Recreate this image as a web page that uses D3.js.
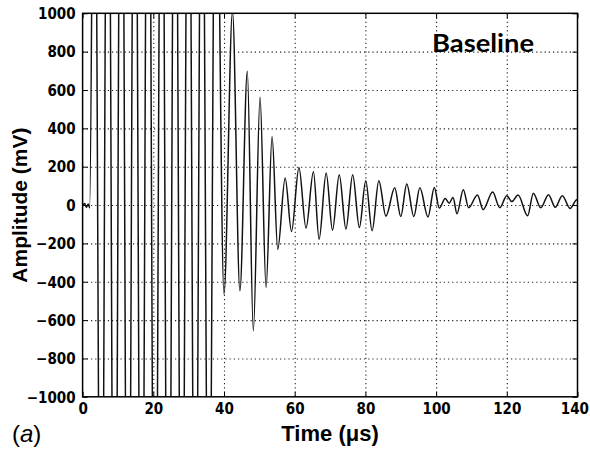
<!DOCTYPE html>
<html><head><meta charset="utf-8">
<script src="https://cdn.jsdelivr.net/npm/d3@7"></script>
<style>body{margin:0;background:#fff} svg{display:block}</style>
</head><body><svg id="c" width="590" height="450"></svg>
<script>
// Signal extrema (time in µs, amplitude in mV); values beyond ±1000 are clipped
const times = [0, 0.6, 1.1, 1.6, 2.0,
  3.3, 5.25, 7.15, 9.05, 10.95, 12.85, 14.75, 16.65, 18.55, 20.45, 22.35, 24.25, 26.15, 28.05, 29.95, 31.85, 33.75, 35.7, 37.65,
  40.0, 42.4, 44.5, 46.6, 48.3, 50.2, 51.9, 53.6, 55.2, 57.3, 59.1, 61.2, 63.2, 65.3, 66.9, 68.9, 70.7, 72.6, 74.5, 76.4, 78.3,
  80.1, 81.9, 83.8, 85.8, 88.3, 90.0, 91.7, 93.7, 95.4, 97.7, 99.5, 100.9, 102.6, 103.7, 104.8, 105.9, 107.7, 109.2, 111.7,
  113.3, 116.0, 118.0, 120.0, 121.4, 123.2, 125.9, 127.5, 129.6, 131.8, 133.7, 135.7, 137.9, 139.8, 140.0];
const amplitudes = [0, 8, -12, 6, -15,
  2600, -2800, 2900, -3000, 3000, -3000, 2900, -2900, 3000, -2900, 2800, -2900, 2800, -2700, 2700, -2600, 2500, -2400, 2300,
  -465, 1010, -447, 698, -656, 562, -430, 357, -230, 141, -138, 196, -120, 174, -178, 167, -131, 158, -125, 158, -117,
  127, -134, 127, -58, 90, -60, 110, -60, 90, -62, 92, -16, 34, 10, 40, -45, 80, -14, 53,
  -24, 68, -14, 49, 18, 52, -56, 62, -14, 54, -12, 49, -18, 27, 25];
const xTicks = [0, 20, 40, 60, 80, 100, 120, 140];
const yTicks = [-1000, -800, -600, -400, -200, 0, 200, 400, 600, 800, 1000];
const xLabel = "Time (\u03bcs)";
const yLabel = "Amplitude (mV)";
const panelTag = "Baseline";

const svg = d3.select("#c");
const L = 82.6, R = 577.5, T = 13.3, B = 396.8;
const x = d3.scaleLinear().domain([0, 140]).range([L, R]);
const y = d3.scaleLinear().domain([-1000, 1000]).range([B, T]);
const lblFont = "'Liberation Sans Narrow','DejaVu Sans Condensed',Arial,sans-serif";

svg.append("rect").attr("width", 590).attr("height", 450).attr("fill", "#fff");

// dotted grid
const gx = svg.append("g").attr("transform", `translate(0,${B})`)
  .call(d3.axisBottom(x).tickValues(xTicks.slice(1, -1)).tickSize(-(B - T)).tickFormat(""));
const gy = svg.append("g").attr("transform", `translate(${L},0)`)
  .call(d3.axisLeft(y).tickValues(yTicks.slice(1, -1)).tickSize(-(R - L)).tickFormat(""));
[gx, gy].forEach(g => {
  g.select(".domain").remove();
  g.selectAll(".tick line").attr("stroke", "#222").attr("stroke-width", 1.1).attr("stroke-dasharray", "1.2,3");
});

// inward ticks on all sides
const tk = 5;
const ab = svg.append("g").attr("transform", `translate(0,${B})`)
  .call(d3.axisBottom(x).tickValues(xTicks).tickSize(-tk).tickPadding(7).tickFormat(d3.format("d")));
const at = svg.append("g").attr("transform", `translate(0,${T})`)
  .call(d3.axisTop(x).tickValues(xTicks).tickSize(-tk).tickFormat(""));
const al = svg.append("g").attr("transform", `translate(${L},0)`)
  .call(d3.axisLeft(y).tickValues(yTicks).tickSize(-tk).tickPadding(7).tickFormat(d3.format("d")));
const ar = svg.append("g").attr("transform", `translate(${R},0)`)
  .call(d3.axisRight(y).tickValues(yTicks).tickSize(-tk).tickFormat(""));
[ab, at, al, ar].forEach(g => {
  g.select(".domain").remove();
  g.selectAll(".tick line").attr("stroke", "#000").attr("stroke-width", 1);
  g.selectAll("text").attr("font-family", lblFont).attr("font-weight", "bold")
    .attr("font-size", 15).attr("fill", "#000");
});
al.selectAll("text").attr("dy", "0.35em");
// keep the last x label inside the picture
ab.selectAll(".tick text").filter(d => d === 140).attr("text-anchor", "end").attr("x", 11);

// signal
svg.append("clipPath").attr("id", "clip").append("rect")
  .attr("x", L).attr("y", T).attr("width", R - L).attr("height", B - T);
const pts = times.map((t, i) => [t, amplitudes[i]]);
svg.append("path").datum(pts)
  .attr("clip-path", "url(#clip)")
  .attr("fill", "none").attr("stroke", "#111").attr("stroke-width", 1.5)
  .attr("d", d3.line().x(d => x(d[0])).y(d => y(d[1])).curve(d3.curveMonotoneX));

// frame
svg.append("rect").attr("x", L).attr("y", T).attr("width", R - L).attr("height", B - T)
  .attr("fill", "none").attr("stroke", "#000").attr("stroke-width", 1.5);

// titles
svg.append("text").attr("x", (L + R) / 2).attr("y", 441).attr("text-anchor", "middle")
  .attr("font-family", "'Liberation Sans',Arial,sans-serif").attr("font-weight", "bold")
  .attr("font-size", 22).text(xLabel);
svg.append("text").attr("transform", `translate(27,${(T + B) / 2}) rotate(-90)`).attr("text-anchor", "middle")
  .attr("font-family", "'Liberation Sans',Arial,sans-serif").attr("font-weight", "bold")
  .attr("font-size", 21).text(yLabel);
svg.append("text").attr("x", 432).attr("y", 52)
  .attr("font-family", "Lato,'Open Sans',sans-serif").attr("font-weight", "bold")
  .attr("font-size", 25).attr("textLength", 102).attr("lengthAdjust", "spacingAndGlyphs").text(panelTag);
const tag = svg.append("text").attr("x", 12).attr("y", 442)
  .attr("font-family", "'Liberation Sans',Arial,sans-serif").attr("font-size", 24);
tag.append("tspan").text("(");
tag.append("tspan").attr("font-style", "italic").text("a");
tag.append("tspan").text(")");
</script></body></html>
